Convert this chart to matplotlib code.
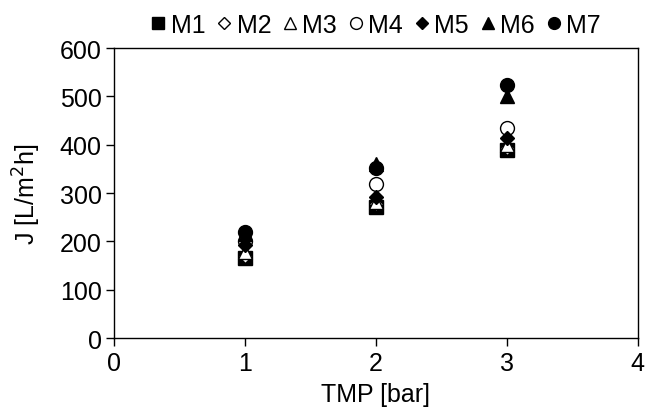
import matplotlib
matplotlib.use("Agg")
import matplotlib.pyplot as plt

plt.rcParams['font.family'] = ['Liberation Sans', 'DejaVu Sans']

tmp = [1, 2, 3]
series_names = ["M1", "M2", "M3", "M4", "M5", "M6", "M7"]
m1 = [165, 271, 389]
m2 = [170, 277, 394]
m3 = [178, 282, 400]
m4 = [200, 318, 434]
m5 = [193, 292, 413]
m6 = [215, 360, 500]
m7 = [220, 352, 524]
values = [m1, m2, m3, m4, m5, m6, m7]

styles = [
    dict(marker='s', mfc='black', ms=10),
    dict(marker='D', mfc='white', ms=7.5),
    dict(marker='^', mfc='white', ms=10),
    dict(marker='o', mfc='white', ms=10),
    dict(marker='D', mfc='black', ms=7.5),
    dict(marker='^', mfc='black', ms=10),
    dict(marker='o', mfc='black', ms=10),
]

FS = 18

fig = plt.figure(figsize=(6.46, 4.14), dpi=100)
ax = fig.add_axes([0.1765, 0.181, 0.8105, 0.7006])

for i, (name, vals, st) in enumerate(zip(series_names, values, styles)):
    ax.plot(tmp, vals, linestyle='none', marker=st['marker'], ms=st['ms'],
            mfc=st['mfc'], mec='black', mew=1.0, label=name, zorder=3 + i)

ax.set_xlim(0, 4)
ax.set_ylim(0, 600)
ax.set_xticks([0, 1, 2, 3, 4])
ax.set_yticks([0, 100, 200, 300, 400, 500, 600])
ax.tick_params(direction='out', length=6, width=1, labelsize=FS, colors='black', pad=3)
for s in ax.spines.values():
    s.set_color('black')
    s.set_linewidth(1)

ax.set_xlabel("TMP [bar]", fontsize=FS, labelpad=5)
ax.set_ylabel("J [L/m$^2$h]", fontsize=FS, labelpad=12)

ax.legend(loc='lower center', bbox_to_anchor=(0.5, 0.995), ncol=7, frameon=False,
          fontsize=FS, handlelength=0.6, handletextpad=0.2, columnspacing=0.45,
          markerscale=0.85, borderaxespad=0.1)

fig.savefig("out.png", dpi=100)
